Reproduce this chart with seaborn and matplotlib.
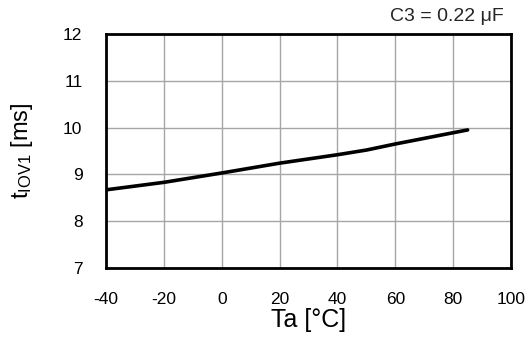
import pandas as pd
import matplotlib
matplotlib.use('Agg')
import matplotlib.pyplot as plt
import seaborn as sns

# Values
temp_c = [-40, -20, 0, 20, 40, 50, 60, 80, 85]
t_iov1_ms = [8.67, 8.83, 9.03, 9.24, 9.42, 9.52, 9.65, 9.89, 9.95]
x_ticks = [-40, -20, 0, 20, 40, 60, 80, 100]
y_ticks = [7, 8, 9, 10, 11, 12]

df = pd.DataFrame({'Ta': temp_c, 'tIOV1': t_iov1_ms})

sns.set_theme(style="white")
plt.rcParams['font.family'] = ['Liberation Sans', 'DejaVu Sans']
plt.rcParams['mathtext.fontset'] = 'custom'
plt.rcParams['mathtext.rm'] = 'Liberation Sans'
plt.rcParams['axes.unicode_minus'] = False

fig = plt.figure(figsize=(5.29, 3.41), dpi=100)
ax = fig.add_axes([0.2004, 0.2141, 0.7656, 0.6862])

sns.lineplot(data=df, x='Ta', y='tIOV1', color='black', linewidth=2.6, ax=ax)

ax.set_xlim(-40, 100)
ax.set_ylim(7, 12)
ax.set_xticks(x_ticks)
ax.set_yticks(y_ticks)
ax.grid(True, color='#a6a6a6', linewidth=1.0)
ax.tick_params(axis='both', length=0, labelsize=12.5, pad=17, colors='black')
for s in ax.spines.values():
    s.set_color('black')
    s.set_linewidth(2.0)

ax.set_xlabel('Ta [°C]', fontsize=18, color='black', labelpad=1)
ax.set_ylabel(r'$\mathregular{t_{IOV1}}$ [ms]', fontsize=17, color='black', labelpad=20)

fig.text(0.953, 0.953, 'C3 = 0.22 μF', fontsize=14, ha='right', va='center')

fig.savefig('out.png', dpi=100)
